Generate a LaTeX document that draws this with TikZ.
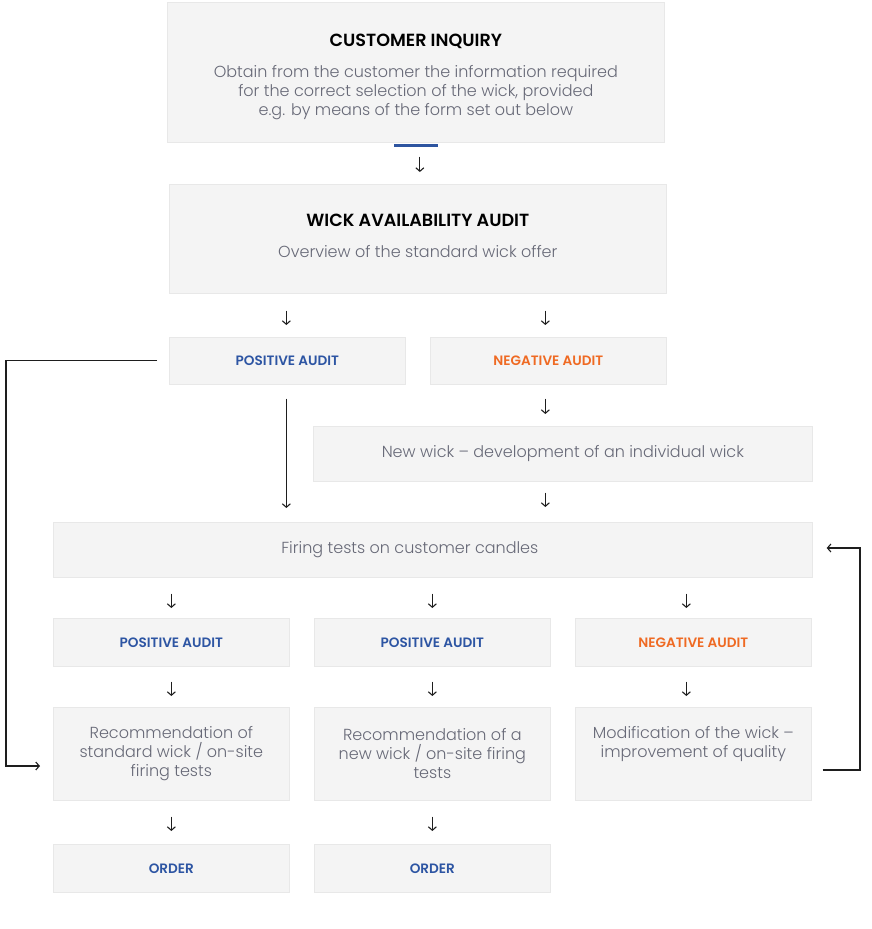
\documentclass[tikz,border=0pt]{standalone}
\usepackage{fontspec}
\setmainfont{Poppins}[UprightFont={* Light},BoldFont={* SemiBold}]
\usetikzlibrary{arrows.meta}
\definecolor{boxfill}{HTML}{F4F4F4}
\definecolor{boxline}{HTML}{E8E8E8}
\definecolor{txtgray}{HTML}{676977}
\definecolor{audblue}{HTML}{2D55A3}
\definecolor{audorange}{HTML}{EF6A23}
\definecolor{arrowcol}{HTML}{1E1E1E}
\definecolor{barblue}{HTML}{2E55A0}
\begin{document}
\begin{tikzpicture}[x=1pt,y=-1pt,
  box/.style={draw=boxline, fill=boxfill, line width=0.7pt, anchor=north west,
    inner sep=0pt, align=center, text=txtgray, font=\fontsize{16}{19}\selectfont},
  aud/.style={box, font=\fontsize{13.6}{16}\selectfont\bfseries},
  arr/.style={draw=arrowcol, line width=1.1pt, -{Straight Barb[length=3.5pt,width=8pt,line width=1.1pt]},
    shorten <=14pt, shorten >=12pt},
  link/.style={draw=arrowcol, line width=1.2pt, -{Straight Barb[length=3.5pt,width=8pt,line width=1.1pt]}}
]
\useasboundingbox (0,0) rectangle (872,929);

% boxes
\node[box, minimum width=497pt, minimum height=140pt] (inq) at (167,2)
  {{\color{black}\fontsize{17.6}{19}\selectfont\bfseries CUSTOMER INQUIRY}\\[12pt]
   Obtain from the customer the information required\\
   for the correct selection of the wick, provided\\
   e.g. by means of the form set out below\\[-30pt]\strut};
\node[box, minimum width=497pt, minimum height=109pt] (avail) at (169,184)
  {{\color{black}\fontsize{17.6}{19}\selectfont\bfseries WICK AVAILABILITY AUDIT}\\[12pt]
   Overview of the standard wick offer\\[-18pt]\strut};
\node[aud, text=audblue, minimum width=236pt, minimum height=47pt] (pos) at (169,337) {POSITIVE AUDIT};
\node[aud, text=audorange, minimum width=236pt, minimum height=47pt] (neg) at (430,337) {NEGATIVE AUDIT};
\node[box, minimum width=499pt, minimum height=55pt] (new) at (313,426) {New wick -- development of an individual wick};
\node[box, minimum width=759pt, minimum height=55pt] (fire) at (53,522) {\hspace*{-46pt}Firing tests on customer candles};

\node[aud, text=audblue, minimum width=236pt, minimum height=48pt] (p1) at (53,618) {POSITIVE AUDIT};
\node[aud, text=audblue, minimum width=236pt, minimum height=48pt] (p2) at (314,618) {POSITIVE AUDIT};
\node[aud, text=audorange, minimum width=236pt, minimum height=48pt] (n3) at (575,618) {NEGATIVE AUDIT};

\node[box, minimum width=236pt, minimum height=93pt] (r1) at (53,707)
  {Recommendation of\\standard wick / on-site\\firing tests};
\node[box, minimum width=236pt, minimum height=93pt] (r2) at (314,707)
  {Recommendation of a\\new wick / on-site firing\\tests};
\node[box, minimum width=236pt, minimum height=93pt] (r3) at (575,707)
  {Modification of the wick --\\improvement of quality\\\strut};

\node[aud, text=audblue, minimum width=236pt, minimum height=48pt] (o1) at (53,844) {ORDER};
\node[aud, text=audblue, minimum width=236pt, minimum height=48pt] (o2) at (314,844) {ORDER};

% blue bar under inquiry
\fill[barblue] ([xshift=-22pt]inq.south) ++(0,1) rectangle ++(44,3);

% small arrows
\draw[arr] ([xshift=4pt]inq.south) -- ([xshift=4pt]inq.south |- avail.north);
\draw[arr, shorten <=17pt] ([xshift=-1pt]pos.north |- avail.south) -- ([xshift=-1pt]pos.north);
\draw[arr, shorten <=17pt] ([xshift=-3pt]neg.north |- avail.south) -- ([xshift=-3pt]neg.north);
\draw[arr] ([xshift=-3pt]neg.south) -- ([xshift=-3pt]neg.south |- new.north);
\draw[arr, shorten <=11pt, shorten >=15pt] ([xshift=-3pt]neg.south |- new.south) -- ([xshift=-3pt]neg.south |- fire.north);
\draw[arr, shorten <=14pt, shorten >=14pt] ([xshift=-1pt]pos.south) -- ([xshift=-1pt]pos.south |- fire.north);

\draw[arr, shorten <=16pt, shorten >=10pt] (p1.north |- fire.south) -- (p1.north);
\draw[arr, shorten <=16pt, shorten >=10pt] (p2.north |- fire.south) -- (p2.north);
\draw[arr, shorten <=16pt, shorten >=10pt] ([xshift=-7pt]n3.north |- fire.south) -- ([xshift=-7pt]n3.north);

\draw[arr, shorten <=15pt, shorten >=11pt] (p1.south) -- (r1.north);
\draw[arr, shorten <=15pt, shorten >=11pt] (p2.south) -- (r2.north);
\draw[arr, shorten <=15pt, shorten >=11pt] ([xshift=-7pt]n3.south) -- ([xshift=-7pt]n3.south |- r3.north);

\draw[arr, shorten <=16pt, shorten >=13pt] (r1.south) -- (o1.north);
\draw[arr, shorten <=16pt, shorten >=13pt] (r2.south) -- (o2.north);

% loop connectors
\coordinate (lx) at (6,0);
\coordinate (rx) at (860,0);
\draw[link] ([xshift=-12pt]pos.west) -- (lx |- pos.west) -- (lx |- 0,766) -- ([xshift=-13pt]r1.west |- 0,766);
\draw[link] ([xshift=11pt]r3.east |- 0,770) -- (rx |- 0,770) -- (rx |- 0,548) -- ([xshift=14pt]fire.east |- 0,548);
\end{tikzpicture}
\end{document}
